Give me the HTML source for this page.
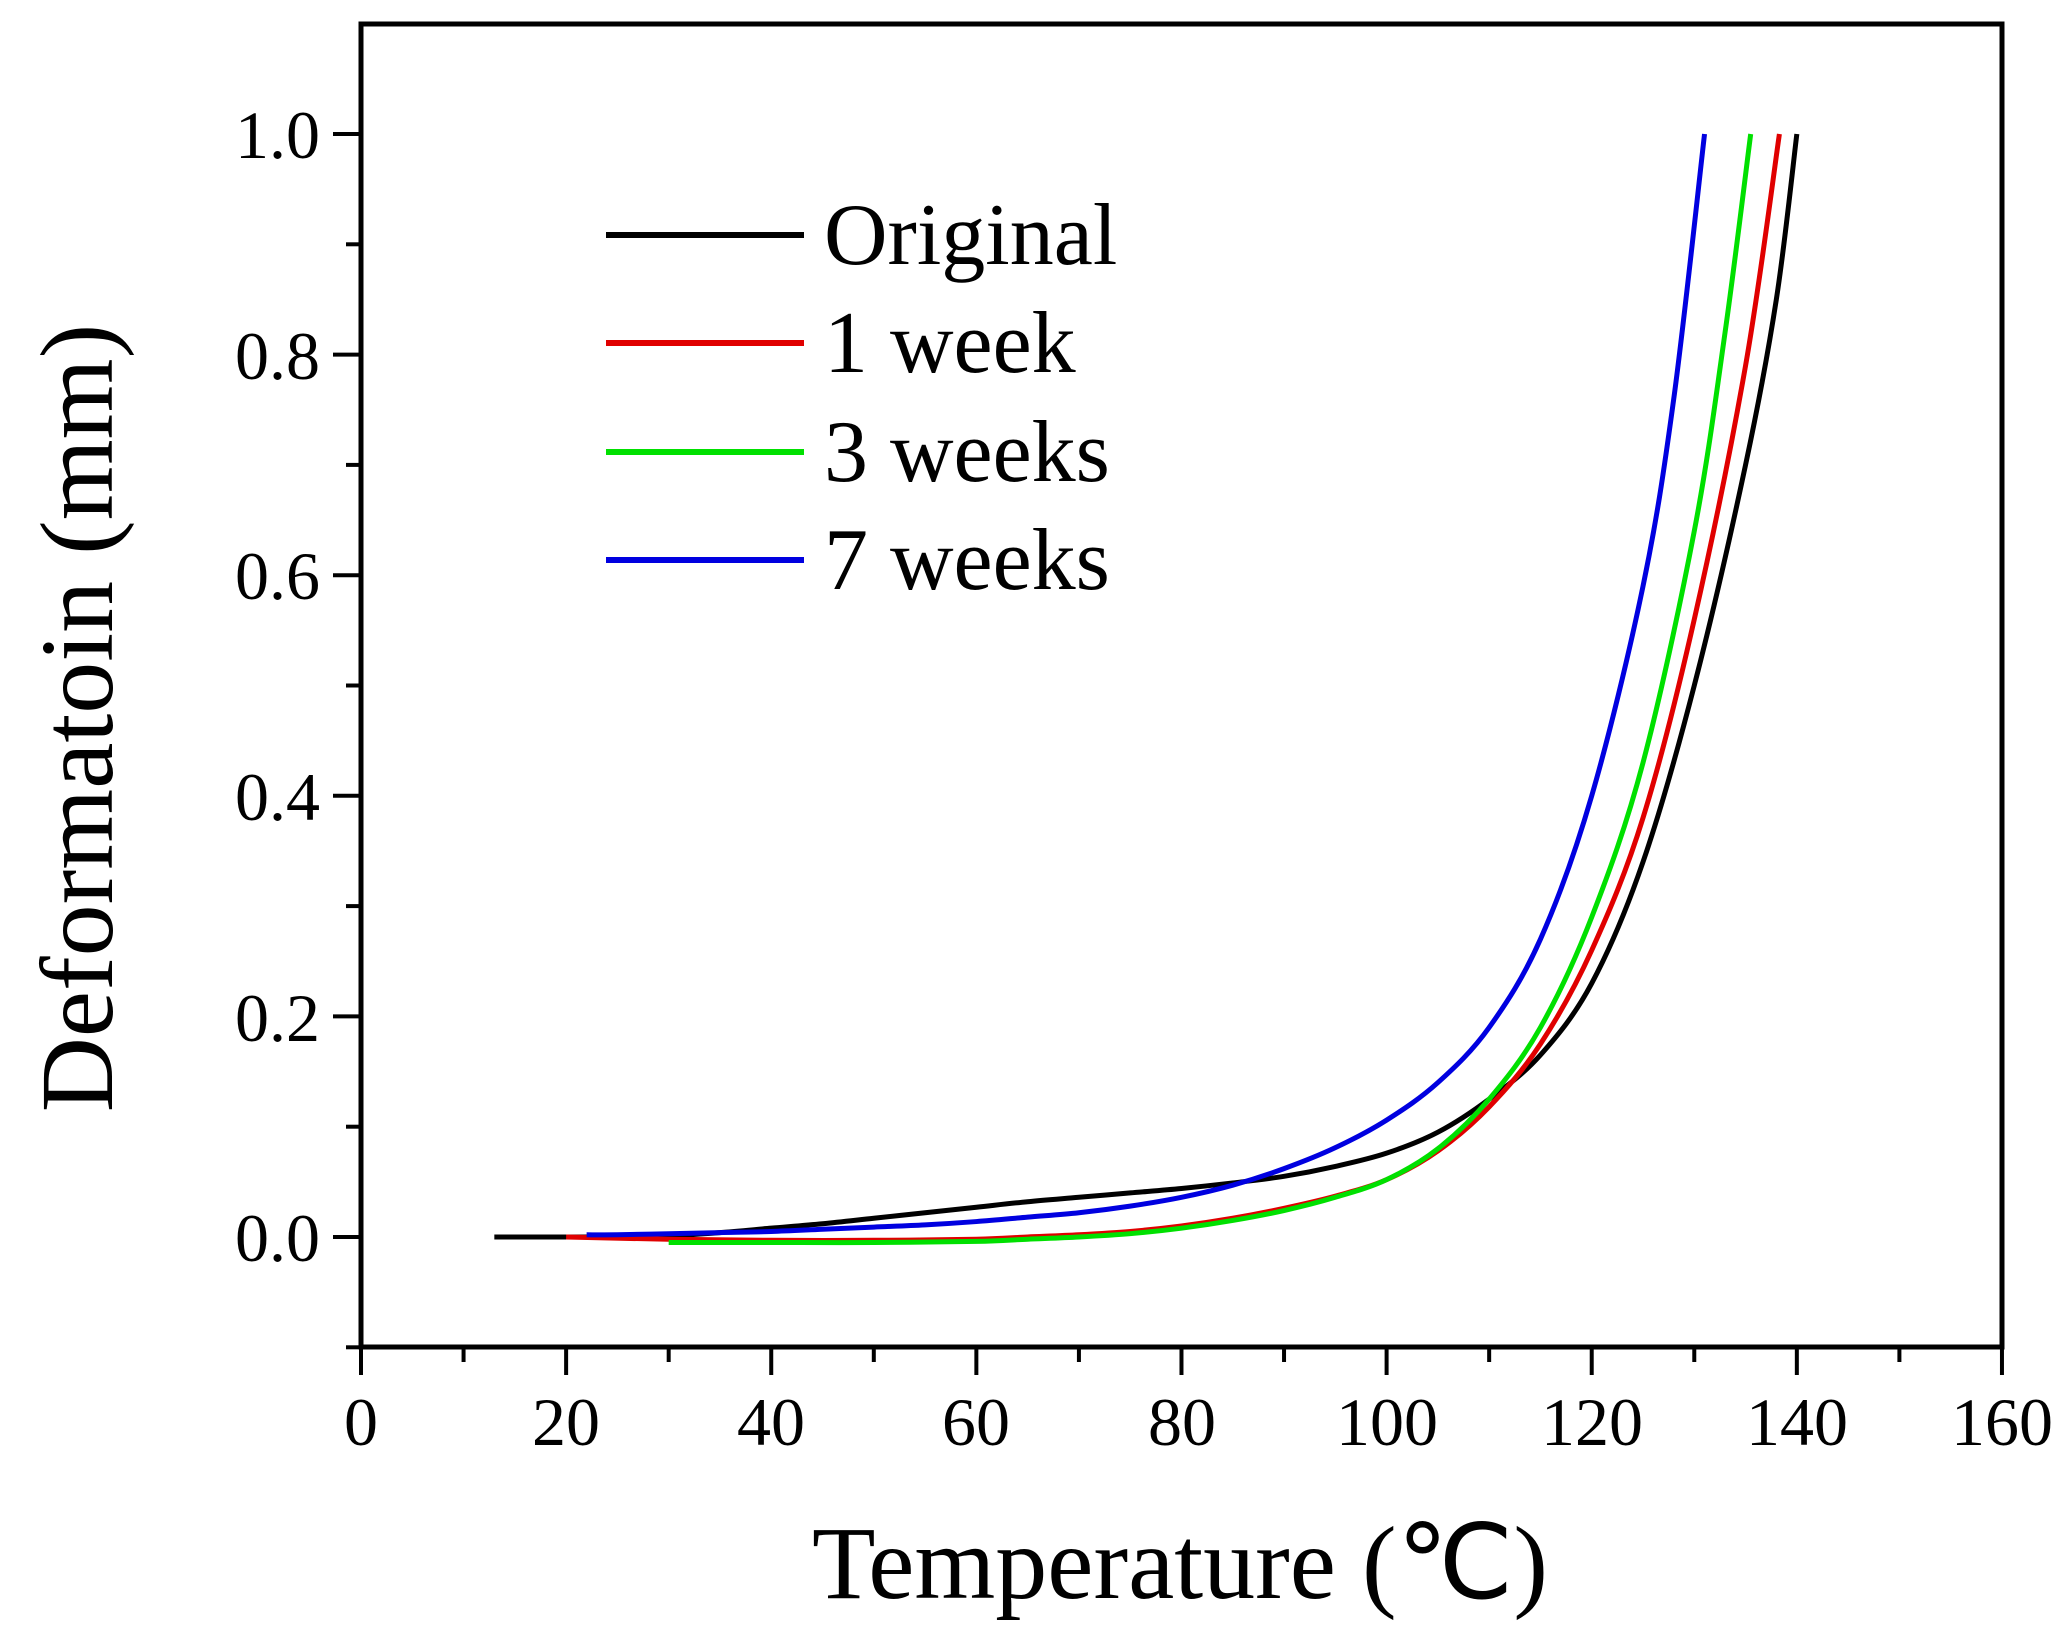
<!DOCTYPE html>
<html><head><meta charset="utf-8"><style>
html,body{margin:0;padding:0;background:#fff;}
svg{display:block;}
text{font-family:"Liberation Serif",serif;fill:#000;}
</style></head><body>
<svg id="s" width="2066" height="1646" viewBox="0 0 2066 1646" xmlns="http://www.w3.org/2000/svg">
<rect x="0" y="0" width="2066" height="1646" fill="#fff"/>
<g id="ticks" stroke="#000" stroke-width="4"></g>
<g id="curves" fill="none" stroke-width="5" stroke-linejoin="round"></g>
<rect x="361" y="24" width="1641" height="1323" fill="none" stroke="#000" stroke-width="5"/>
<g font-size="68" text-anchor="end">
<text x="320" y="158">1.0</text>
<text x="320" y="379">0.8</text>
<text x="320" y="599">0.6</text>
<text x="320" y="820">0.4</text>
<text x="320" y="1041">0.2</text>
<text x="320" y="1261">0.0</text>
</g>
<g font-size="68" text-anchor="middle">
<text x="361" y="1445">0</text>
<text x="566" y="1445">20</text>
<text x="771" y="1445">40</text>
<text x="976" y="1445">60</text>
<text x="1182" y="1445">80</text>
<text x="1387" y="1445">100</text>
<text x="1592" y="1445">120</text>
<text x="1797" y="1445">140</text>
<text x="2002" y="1445">160</text>
</g>
<text x="1180" y="1598" font-size="104" text-anchor="middle">Temperature (℃)</text>
<text transform="translate(112,718) rotate(-90)" font-size="104" text-anchor="middle">Deformatoin (mm)</text>
<g stroke-width="6">
<line x1="606" y1="235" x2="804" y2="235" stroke="#000"/>
<line x1="606" y1="343" x2="804" y2="343" stroke="#e00000"/>
<line x1="606" y1="452" x2="804" y2="452" stroke="#00e000"/>
<line x1="606" y1="560" x2="804" y2="560" stroke="#0000e0"/>
</g>
<g font-size="88">
<text x="824" y="264">Original</text>
<text x="824" y="372">1 week</text>
<text x="824" y="481">3 weeks</text>
<text x="824" y="589">7 weeks</text>
</g>
</svg>
<script>
var X=function(x){return 361+x*10.256},Y=function(y){return 1237-y*1103};
var t=document.getElementById('ticks'),h='';
for(var i=0;i<=16;i++){var x=X(i*10),L=i%2?15:28;h+='<line x1="'+x+'" y1="1347" x2="'+x+'" y2="'+(1347+L)+'"/>';}
for(var j=-1;j<=10;j++){var y=Y(j*0.1),L=(j%2==0)?28:15;h+='<line x1="'+(361-L)+'" y1="'+y+'" x2="361" y2="'+y+'"/>';}
t.innerHTML=h;
var data={
'#000':[[13,0],[20,0],[25,0],[30,0.001],[35,0.004],[40,0.008],[45,0.012],[50,0.017],[55,0.022],[60,0.027],[65,0.032],[70,0.036],[75,0.04],[80,0.044],[85,0.049],[90,0.055],[95,0.064],[100,0.076],[105,0.095],[110,0.125],[115,0.165],[120,0.23],[125,0.34],[130,0.5],[135,0.7],[138,0.85],[140,1.0]],
'#e00000':[[20,0],[30,-0.002],[40,-0.003],[50,-0.003],[60,-0.002],[65,0],[70,0.002],[75,0.005],[80,0.01],[85,0.017],[90,0.026],[95,0.037],[100,0.052],[105,0.078],[110,0.118],[115,0.175],[120,0.26],[125,0.38],[130,0.56],[135,0.79],[138.3,1.0]],
'#00e000':[[30,-0.005],[40,-0.005],[50,-0.005],[60,-0.004],[65,-0.002],[70,0],[75,0.003],[80,0.008],[85,0.015],[90,0.024],[95,0.036],[100,0.052],[105,0.08],[110,0.125],[115,0.19],[120,0.29],[125,0.43],[130,0.64],[133,0.82],[135.5,1.0]],
'#0000e0':[[22,0.002],[25,0.002],[30,0.003],[35,0.004],[40,0.005],[45,0.007],[50,0.009],[55,0.011],[60,0.014],[65,0.018],[70,0.022],[75,0.028],[80,0.036],[85,0.047],[90,0.062],[95,0.081],[100,0.106],[105,0.14],[110,0.19],[115,0.27],[120,0.4],[125,0.59],[128,0.76],[131,1.0]]};
var c=document.getElementById('curves'),s='';
for(var k in data){var p=data[k].map(function(q){return [X(q[0]),Y(q[1])]});
var d='M'+p[0][0]+' '+p[0][1];
for(var i=0;i<p.length-1;i++){var p0=p[i-1]||p[i],p1=p[i],p2=p[i+1],p3=p[i+2]||p2;
d+=' C'+(p1[0]+(p2[0]-p0[0])/6)+' '+(p1[1]+(p2[1]-p0[1])/6)+' '+(p2[0]-(p3[0]-p1[0])/6)+' '+(p2[1]-(p3[1]-p1[1])/6)+' '+p2[0]+' '+p2[1];}
s+='<path d="'+d+'" stroke="'+k+'"/>';}
c.innerHTML=s;
</script>
</body></html>
